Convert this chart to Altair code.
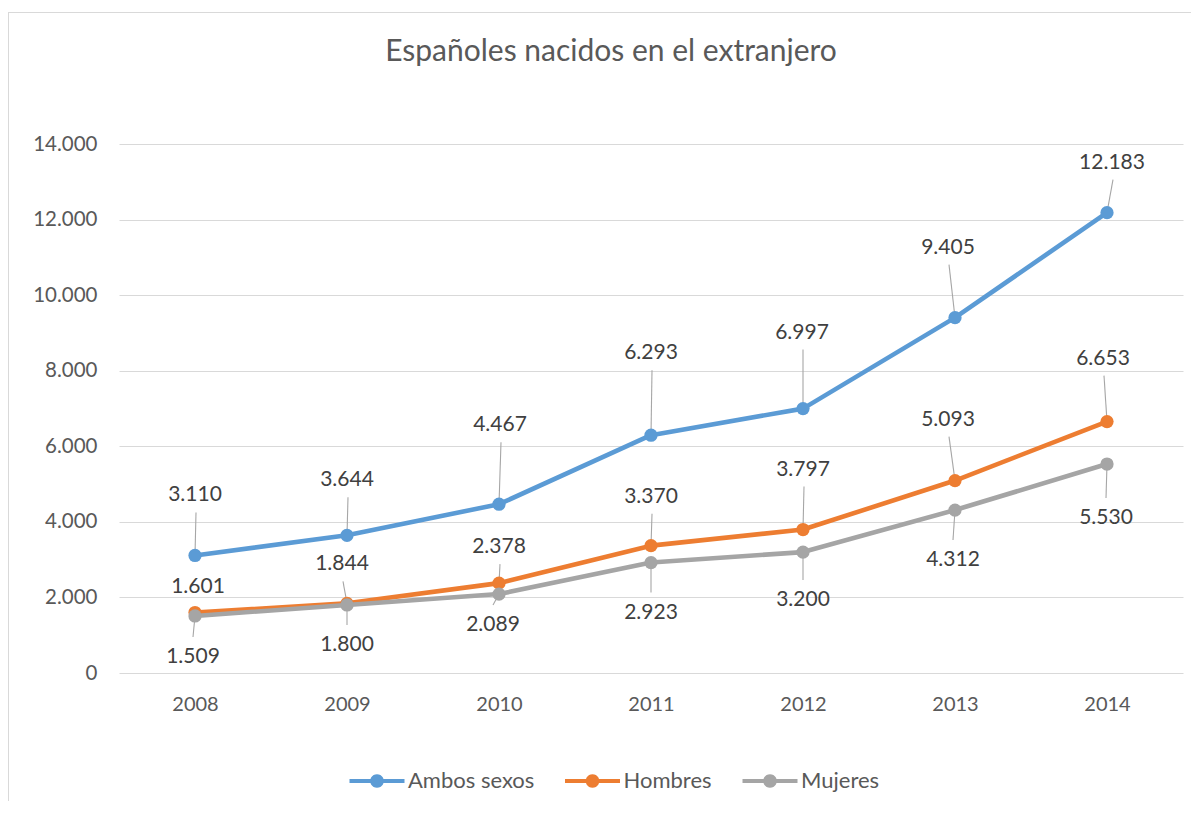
import math
import altair as alt
import pandas as pd

# ---------------- data ----------------
YEARS = [2008, 2009, 2010, 2011, 2012, 2013, 2014]
SERIES = ["Ambos sexos", "Hombres", "Mujeres"]
AMBOS = [3110, 3644, 4467, 6293, 6997, 9405, 12183]
HOMBRES = [1601, 1844, 2378, 3370, 3797, 5093, 6653]
MUJERES = [1509, 1800, 2089, 2923, 3200, 4312, 5530]
Y_TICKS = [0, 2000, 4000, 6000, 8000, 10000, 12000, 14000]
TITLE = "Españoles nacidos en el extranjero"
COLORS = ["#5B9BD5", "#ED7D31", "#A5A5A5"]

# label placement (pixels, as moved in the original chart)
LABEL_DY = {
    "Ambos sexos": [-60, -55, -79, -82, -76, -70, -50],
    "Hombres": [-26, -39, -36, -49, -60, -61, -63],
    "Mujeres": [41, 40, 31, 50, 48, 50, 54],
}
LABEL_DX = {
    "Ambos sexos": [0, 0, 1, 0, -1, -7, 5],
    "Hombres": [3, -5, 0, 0, 0, -7, -4],
    "Mujeres": [-2, 0, -6, 0, 0, -2, -1],
}

W, H = 1064, 529
YMAX = 14000
UPP_Y = YMAX / H           # data units per pixel (y)
UPP_X = 7 / W              # data units per pixel (x)

values = {"Ambos sexos": AMBOS, "Hombres": HOMBRES, "Mujeres": MUJERES}

rows, lab_rows, lead_rows = [], [], []
for s in SERIES:
    for i, y in enumerate(YEARS):
        v = values[s][i]
        rows.append({"year": y, "value": v, "serie": s})
        dy = LABEL_DY[s][i]
        dx = LABEL_DX[s][i]
        ly = v - dy * UPP_Y
        lx = y + dx * UPP_X
        txt = f"{v:,}".replace(",", ".")
        lab_rows.append({"lx": lx, "ly": ly, "txt": txt})
        if abs(dy) >= 30:
            if dy < 0:
                y_end = ly - 17 * UPP_Y
            else:
                y_end = ly + 20 * UPP_Y
            lead_rows.append({"x1": lx + (1 if dy < 0 else 0) * UPP_X, "y1": y_end,
                              "x2": y, "y2": v})

df = pd.DataFrame(rows)
labels = pd.DataFrame(lab_rows)
leads = pd.DataFrame(lead_rows)
one = pd.DataFrame({"a": [0]})

FONT = "Lato"
xscale = alt.Scale(domain=[2007.5, 2014.5], nice=False, zero=False)
yscale = alt.Scale(domain=[0, YMAX], nice=False)
cscale = alt.Scale(domain=SERIES, range=COLORS)

x_enc = alt.X("year:Q", scale=xscale,
              axis=alt.Axis(values=YEARS, format="d", title=None, grid=False,
                            domain=False, ticks=False, labelFont=FONT,
                            labelFontSize=20, labelColor="#595959",
                            labelPadding=21))
y_enc = alt.Y("value:Q", scale=yscale,
              axis=alt.Axis(values=Y_TICKS, title=None, domain=False, ticks=False,
                            labelExpr="replace(format(datum.value, ','), ',', '.')",
                            labelFont=FONT, labelFontSize=20.5, labelColor="#595959",
                            labelPadding=22, gridColor="#D9D9D9", gridWidth=1.2))

# legend symbol: a line with a dot in the middle
r = 0.62
circ = " ".join(
    ("M" if k == 0 else "L") + f"{r*math.cos(2*math.pi*k/24):.3f},{r*math.sin(2*math.pi*k/24):.3f}"
    for k in range(24)) + " Z"
PATH = "M-2.5,-0.19 L2.5,-0.19 L2.5,0.19 L-2.5,0.19 Z " + circ

legend = alt.Legend(title=None, orient="none", legendX=247, legendY=626,
                    direction="horizontal", symbolType=PATH, symbolSize=484,
                    symbolStrokeWidth=0, symbolOpacity=1, labelFont=FONT,
                    labelFontSize=22, labelColor="#595959", labelOffset=20,
                    columnPadding=29.5, padding=0)

border_top = alt.Chart(one).mark_rule(color="#D9D9D9", strokeWidth=1).encode(
    x=alt.value(-111), x2=alt.value(W + 10), y=alt.value(-131.5))
border_left = alt.Chart(one).mark_rule(color="#D9D9D9", strokeWidth=1).encode(
    x=alt.value(-110.5), y=alt.value(-132), y2=alt.value(H + 140))

leaders = alt.Chart(leads).mark_rule(color="#A6A6A6", strokeWidth=1.1).encode(
    x=alt.X("x1:Q", scale=xscale), x2="x2:Q",
    y=alt.Y("y1:Q", scale=yscale), y2="y2:Q")

# invisible layer carrying the axes and the legend
base = alt.Chart(df).mark_circle(opacity=0, size=10).encode(
    x=x_enc, y=y_enc, color=alt.Color("serie:N", scale=cscale, legend=legend))

series_layers = []
for s in SERIES:
    d = df[df.serie == s]
    ln = alt.Chart(d).mark_line(strokeWidth=4.6, strokeCap="round",
                                strokeJoin="round").encode(
        x=alt.X("year:Q", scale=xscale), y=alt.Y("value:Q", scale=yscale),
        color=alt.Color("serie:N", scale=cscale, legend=None))
    pt = alt.Chart(d).mark_circle(size=175, opacity=1).encode(
        x=alt.X("year:Q", scale=xscale), y=alt.Y("value:Q", scale=yscale),
        color=alt.Color("serie:N", scale=cscale, legend=None))
    series_layers += [ln, pt]

text = alt.Chart(labels).mark_text(font=FONT, fontSize=21, color="#404040",
                                   align="center", baseline="middle").encode(
    x=alt.X("lx:Q", scale=xscale), y=alt.Y("ly:Q", scale=yscale), text="txt:N")

title = alt.Chart(one).mark_text(font=FONT, fontSize=30, color="#595959",
                                 align="center", baseline="middle").encode(
    x=alt.value(492), y=alt.value(-92), text=alt.value(TITLE))

chart = alt.layer(border_top, border_left, base, leaders, *series_layers,
                  text, title).properties(
    width=W, height=H,
    padding={"left": 111, "top": 136, "right": 8, "bottom": 128},
    autosize=alt.AutoSizeParams(type="none"),
).configure_view(stroke=None)

chart.save("out.html", embed_options={"renderer": "svg", "actions": False})
